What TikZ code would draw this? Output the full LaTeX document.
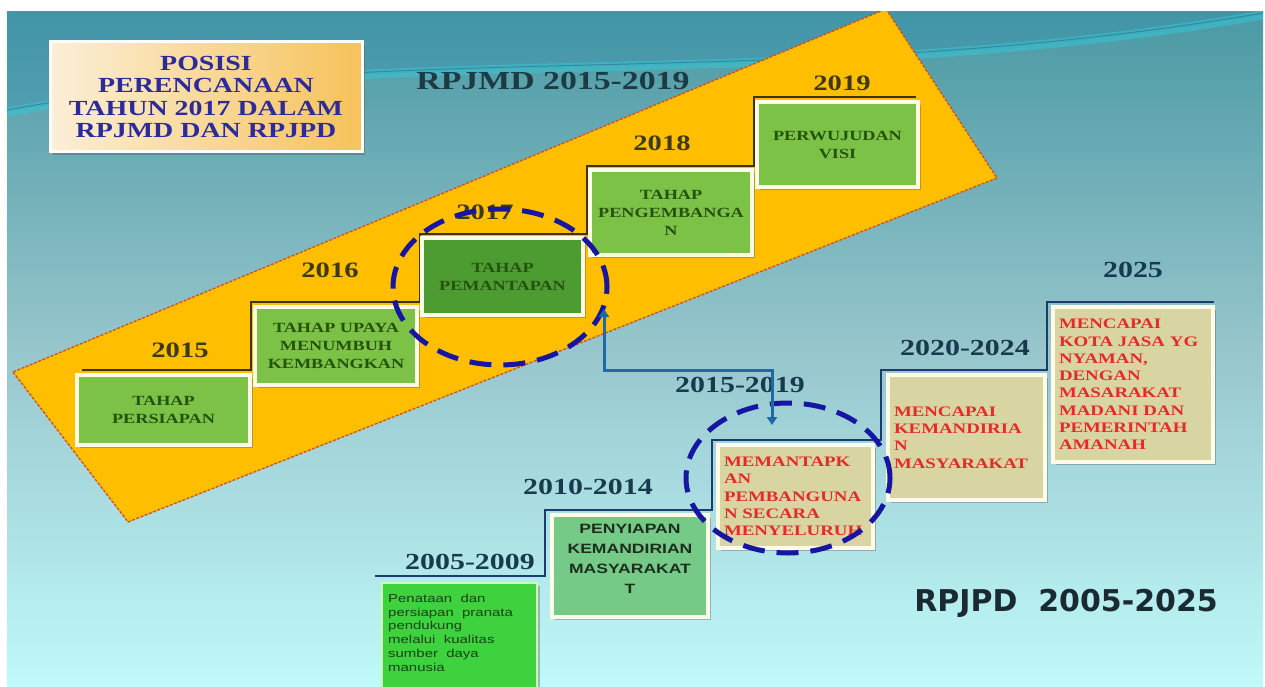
\documentclass[tikz,border=0pt]{standalone}
\usepackage{fontspec}
\setmainfont{Liberation Serif}[FakeStretch=1.3]
\newfontfamily\wsans{Liberation Sans}[FakeStretch=1.3]
\newfontfamily\vsans{DejaVu Sans}
\usetikzlibrary{shadows,shapes.geometric,arrows.meta}
\definecolor{bgtop}{HTML}{4A99A4}
\definecolor{bgmid}{HTML}{97C6CC}
\definecolor{bgbot}{HTML}{C0FAFA}
\definecolor{swblue}{HTML}{3590AE}
\definecolor{swcyan}{HTML}{35C8D8}
\definecolor{bandfill}{HTML}{FFBE00}
\definecolor{banddash}{HTML}{D0501E}
\definecolor{titlel}{HTML}{FBEFD8}
\definecolor{titler}{HTML}{F6C25A}
\definecolor{titletext}{HTML}{2B2B9C}
\definecolor{mjgreen}{HTML}{7CC246}
\definecolor{mjdark}{HTML}{4C9C32}
\definecolor{mjtext}{HTML}{25530F}
\definecolor{mjstep}{HTML}{3D3408}
\definecolor{mjyear}{HTML}{3B3A12}
\definecolor{headtext}{HTML}{1D3B44}
\definecolor{pjstep}{HTML}{1C3C6C}
\definecolor{pjyear}{HTML}{173A4C}
\definecolor{pjgreen}{HTML}{3FD23F}
\definecolor{pjgreen2}{HTML}{74CA86}
\definecolor{pjtext}{HTML}{114411}
\definecolor{pjtext2}{HTML}{1E2E1E}
\definecolor{khaki}{HTML}{D9D5A2}
\definecolor{redtext}{HTML}{E62A28}
\definecolor{circblue}{HTML}{1616A2}
\definecolor{arrowblue}{HTML}{1E6AA6}
\definecolor{boxedge}{HTML}{FFFBE6}
\definecolor{bigtext}{HTML}{1A2A30}
\begin{document}
\begin{tikzpicture}[x=1pt,y=-1pt,
  shadowed/.style={drop shadow={shadow xshift=3pt,shadow yshift=-3pt,opacity=.35,fill=black!70}},
  mjbox/.style={shadowed, draw=boxedge, line width=3.5pt, fill=mjgreen, text=mjtext, align=center, inner sep=2pt, font=\bfseries\fontsize{14}{18}\selectfont},
  mjyearlbl/.style={text=mjyear, font=\bfseries\fontsize{22}{24}\selectfont, inner sep=0pt},
  pjyearlbl/.style={text=pjyear, font=\bfseries\fontsize{23}{25}\selectfont, inner sep=0pt},
  pjbox/.style={shadowed, draw=boxedge, line width=3.5pt, fill=khaki},
  redtxt/.style={text=redtext, align=left, font=\bfseries\fontsize{14.5}{17.3}\selectfont, inner sep=4pt},
  ringstyle/.style={draw=circblue, line width=5pt, dash pattern=on 22pt off 12pt, ellipse, inner sep=0pt},
  stepline/.style={line width=2.5pt},
  arrowline/.style={draw=arrowblue, line width=3pt, {Triangle[width=10pt,length=8pt]}-{Triangle[width=10pt,length=8pt]}}
]
\useasboundingbox (0,0) rectangle (1265,687);
\fill[white] (0,0) rectangle (1265,687);
\shade[top color=bgtop, bottom color=bgbot, middle color=bgmid] (7,12) rectangle (1263,687);
\begin{scope}
\clip (7,12) rectangle (1263,687);
\fill[swblue, opacity=.35] (7,12) -- (1263,12) -- (1263,15) .. controls (800,95) and (400,40) .. (7,112) -- cycle;
\draw[swcyan, opacity=.5, line width=9pt] (7,112) .. controls (400,40) and (800,95) .. (1263,15);
\draw[swblue!70!black, opacity=.5, line width=1pt] (7,110) .. controls (400,38) and (800,93) .. (1263,13);
% orange band
\filldraw[fill=bandfill, draw=banddash, line width=1.3pt, dash pattern=on 3pt off 1.5pt]
  (13,372) -- (128,522) -- (997,178) -- (886,9) -- cycle;
\end{scope}

% title
\node[shadowed, shade, left color=titlel, right color=titler, draw=white, line width=3pt,
  minimum width=312pt, minimum height=110pt, text=titletext, align=center,
  font=\bfseries\fontsize{21.5}{22.5}\selectfont] (title) at (206,97)
  {POSISI\\PERENCANAAN\\TAHUN 2017 DALAM\\RPJMD DAN RPJPD};

\node[text=headtext, font=\bfseries\fontsize{26}{30}\selectfont] (rpjmd) at (553,81) {RPJMD 2015-2019};

% RPJMD staircase
\draw[mjstep, stepline] (82,370) -- (251,370) -- (251,302) -- (420,302) -- (420,234) -- (587,234) -- (587,166) -- (754,166) -- (754,97) -- (916,97);

\node[mjyearlbl] (y15) at (180,350) {2015};
\node[mjyearlbl] (y16) at (330,270) {2016};
\node[mjyearlbl] (y17) at (485,212) {2017};
\node[mjyearlbl] (y18) at (662,143) {2018};
\node[mjyearlbl] (y19) at (842,83) {2019};

\node[mjbox, minimum width=173pt, minimum height=70pt] (m1) at (163.5,410) {TAHAP\\PERSIAPAN};
\node[mjbox, minimum width=162pt, minimum height=78pt] (m2) at (336,346) {TAHAP UPAYA\\MENUMBUH\\KEMBANGKAN};
\node[mjbox, fill=mjdark, minimum width=161pt, minimum height=77pt] (m3) at (502.5,276.5) {TAHAP\\PEMANTAPAN};
\node[mjbox, minimum width=162pt, minimum height=85pt] (m4) at (671,212.5) {TAHAP\\PENGEMBANGA\\N};
\node[mjbox, minimum width=161pt, minimum height=85pt] (m5) at (837.5,144.5) {PERWUJUDAN\\VISI};

% RPJPD staircase
\draw[pjstep, stepline] (375,576) -- (545,576) -- (545,510) -- (712,510) -- (712,440) -- (881,440) -- (881,370) -- (1047,370) -- (1047,302) -- (1214,302);

\node[pjyearlbl] (q1) at (470,562) {2005-2009};
\node[pjyearlbl] (q2) at (588,487) {2010-2014};
\node[pjyearlbl] (q3) at (740,385) {2015-2019};
\node[pjyearlbl] (q4) at (965,348) {2020-2024};
\node[pjyearlbl] (q5) at (1133,270) {2025};

\node[shadowed, draw=boxedge!80!green, line width=2pt, fill=pjgreen, minimum width=155pt, minimum height=112pt] (p1) at (459.5,639) {};
\node[anchor=north west, align=left, text=pjtext, inner sep=0pt, font=\wsans\fontsize{11.5}{13.7}\selectfont] (p1t) at (388,594)
  {Penataan\ \ dan\\persiapan\ \ pranata\\pendukung\\melalui\ \ kualitas\\sumber\ \ daya\\manusia};
\node[shadowed, draw=boxedge, line width=3.5pt, fill=pjgreen2, minimum width=156pt, minimum height=102pt] (p2) at (630,566) {};
\node[text=pjtext2, align=center, font=\wsans\bfseries\fontsize{13.5}{20}\selectfont] (p2t) at (630,559)
  {PENYIAPAN\\KEMANDIRIAN\\MASYARAKAT\\T};
\node[pjbox, redtxt, minimum width=155pt, minimum height=103pt, text width=143pt] (p3) at (795.5,496.5)
  {MEMANTAPK\\AN\\PEMBANGUNA\\N SECARA\\MENYELURUH};
\node[pjbox, redtxt, minimum width=157pt, minimum height=125pt, text width=145pt] (p4) at (966.5,437.5)
  {MENCAPAI\\KEMANDIRIA\\N\\MASYARAKAT};
\node[pjbox, redtxt, minimum width=160pt, minimum height=155pt, text width=148pt] (p5) at (1133,384.5)
  {MENCAPAI\\KOTA JASA YG\\NYAMAN,\\DENGAN\\MASARAKAT\\MADANI DAN\\PEMERINTAH\\AMANAH};

\node[text=bigtext, font=\vsans\bfseries\fontsize{30}{34}\selectfont] (rpjpd) at (1066,603) {RPJPD\ \ 2005-2025};

% dashed rings
\node[ringstyle, minimum width=214pt, minimum height=156pt] (c1) at (500,287) {};
\node[ringstyle, minimum width=204pt, minimum height=150pt] (c2) at (788,478) {};

% arrow
\coordinate (a0) at (604,309);
\coordinate (a1) at (772,425);
\draw[arrowline] (a0) -- ++(0,61) -| (a1);
\end{tikzpicture}
\end{document}
